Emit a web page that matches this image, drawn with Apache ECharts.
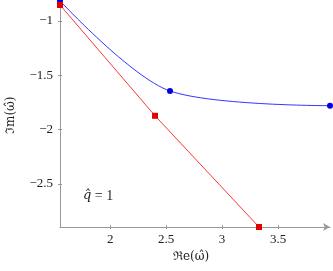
<!DOCTYPE html>
<html><head><meta charset="utf-8">
<script src="https://cdn.jsdelivr.net/npm/echarts@6/dist/echarts.min.js"></script>
<style>html,body{margin:0;padding:0;background:#fff}#c{width:333px;height:271px}</style>
</head><body><div id="c"></div>
<script>
const blueX = [1.55, 2.534, 3.965];
const blueY = [-0.815, -1.644, -1.779];
const redX = [1.55, 2.40, 3.33];
const redY = [-0.853, -1.872, -2.895];
const xTicks = [2, 2.5, 3, 3.5];
const yTicks = [-2.5, -2, -1.5, -1];
const xRange = [1.55, 3.965];
const yRange = [-2.895, -0.807];
const annoVar = 'q\u0302';
const annoRest = ' = 1';
const xName = '\u211Ce(\u03C9\u0302)';
const yName = '\u2111m(\u03C9\u0302)';

const font = 'Liberation Serif';
const font2 = 'DejaVu Serif';
const axisGray = '#999';
const fmt = v => String(v).replace('-', '\u2212');

const chart = echarts.init(document.getElementById('c'), null, {renderer: 'canvas'});
function xAx(main) {
  return {
    type: 'value', min: xRange[0], max: xRange[1], position: 'bottom', gridIndex: 0,
    axisLine: {show: main, onZero: false, lineStyle: {color: axisGray, width: 1}, symbol: ['none', 'arrow'], symbolSize: [6, 7]},
    axisTick: {show: true, inside: !main, length: 2, lineStyle: {color: axisGray}, customValues: xTicks},
    axisLabel: {show: main, customValues: xTicks, formatter: fmt, color: '#222', fontFamily: font, fontSize: 13, margin: 6},
    splitLine: {show: false}
  };
}
function yAx(main) {
  return {
    type: 'value', min: yRange[0], max: yRange[1], position: 'left', gridIndex: 0,
    axisLine: {show: main, onZero: false, lineStyle: {color: axisGray, width: 1}},
    axisTick: {show: true, inside: !main, length: 2, lineStyle: {color: axisGray}, customValues: yTicks},
    axisLabel: {show: main, customValues: yTicks, formatter: fmt, color: '#222', fontFamily: font, fontSize: 13, margin: 7},
    splitLine: {show: false}
  };
}
chart.setOption({
  animation: false,
  grid: {left: 60, right: 3, top: 0, bottom: 44, containLabel: false},
  xAxis: [xAx(true), xAx(false)],
  yAxis: [yAx(true), yAx(false)],
  series: [
    {type: 'line', data: blueX.map((x, i) => [x, blueY[i]]), smooth: 0.3, clip: false,
     symbol: 'circle', symbolSize: 6, itemStyle: {color: '#0000e0'}, lineStyle: {color: '#0000ff', width: 0.8}},
    {type: 'line', data: redX.map((x, i) => [x, redY[i]]), smooth: false, clip: false,
     symbol: 'rect', symbolSize: 6, itemStyle: {color: '#e00000'}, lineStyle: {color: '#ff0000', width: 0.8}}
  ],
  graphic: [
    {type: 'text', left: 83, top: 189, style: {
      text: '{a|' + annoVar + '}{b|' + annoRest + '}',
      rich: {a: {fontFamily: font2, fontStyle: 'italic', fontSize: 13, fill: '#222', color: '#222'},
             b: {fontFamily: font, fontSize: 14, fill: '#222', color: '#222'}}}},
    {type: 'text', left: 173, top: 251, style: {text: xName, font: '12px ' + font2, fill: '#222'}},
    {type: 'text', x: 5, y: 134, rotation: Math.PI / 2, style: {text: yName, font: '12px ' + font2, fill: '#222'}}
  ]
});
</script></body></html>
